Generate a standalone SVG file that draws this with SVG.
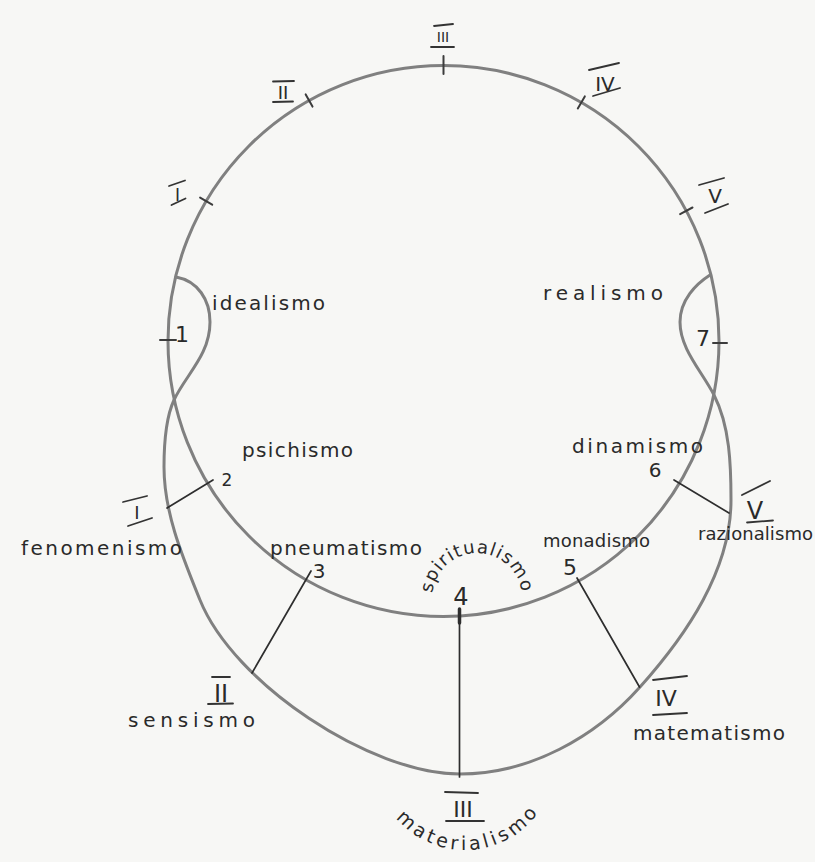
<svg xmlns="http://www.w3.org/2000/svg" width="815" height="862" viewBox="0 0 815 862">
  <defs>
    <style>
      .curve { fill: none; stroke: #808080; stroke-width: 3; stroke-linecap: round; }
      .tick { stroke: #3c3c3c; stroke-width: 2; stroke-linecap: round; }
      .bar { stroke: #333; stroke-width: 1.8; stroke-linecap: round; }
      .conn { stroke: #2e2e2e; stroke-width: 1.7; stroke-linecap: round; }
      .word { font-family: "DejaVu Sans", "Liberation Sans", sans-serif; fill: #2a2a2a; }
      .num { font-family: "DejaVu Sans", "Liberation Sans", sans-serif; fill: #2a2a2a; text-anchor: middle; }
      .roman { font-family: "DejaVu Sans", "Liberation Sans", sans-serif; fill: #2a2a2a; text-anchor: middle; }
    </style>
    <path id="arc-spirit" d="M433.5,609.6 A45,45 0 1 1 520.5,609.6"/>
    <path id="arc-mater" d="M389.5,809 A90,90 0 0 0 545.2,800.9"/>
  </defs>
  <rect x="0" y="0" width="815" height="862" fill="#f7f7f5"/>

  <!-- main shapes -->
  <g id="shapes">
    <circle id="inner-circle" class="curve" cx="443.5" cy="341" r="275.5"/>
    <path id="outer-curve" class="curve" d="M176,277 C198,281 210,300 210,322 C210,355 186,374.5 174,400 C166.4,416.4 164,445 164,467 C164,513 182.75,557.4 200,600 C233.75,683.4 370,774 460,774 C530,774 595.4,737 640,687 C686.6,634.8 731,570 731,500 C731,465 729.9,426.2 714,395 C701.7,371 680,349 680,322 C680,300 696,284 710,275"/>
  </g>

  <!-- ticks on the upper circle -->
  <g id="ticks">
    <line class="tick" x1="212.2" y1="204.7" x2="200.1" y2="197.6"/>
    <line class="tick" x1="312.5" y1="106.6" x2="305.7" y2="94.4"/>
    <line class="tick" x1="443.5" y1="74" x2="443.5" y2="56"/>
    <line class="tick" x1="577.8" y1="108.5" x2="584.8" y2="96.4"/>
    <line class="tick" x1="680.1" y1="214.1" x2="692.5" y2="207.5"/>
    <line class="tick" x1="160" y1="340" x2="176" y2="340"/>
    <line class="tick" x1="713" y1="343" x2="727" y2="343"/>
  </g>

  <!-- connectors -->
  <g id="connectors">
    <line class="conn" x1="167" y1="508" x2="213" y2="480"/>
    <line class="conn" x1="252" y1="673" x2="311" y2="571"/>
    <line class="conn" x1="459.5" y1="609" x2="459.5" y2="777"/>
    <line class="conn" x1="459.5" y1="609" x2="459.5" y2="623" style="stroke-width:3.5"/>
    <line class="conn" x1="577" y1="578" x2="639.5" y2="687"/>
    <line class="conn" x1="674" y1="480" x2="729" y2="513"/>
  </g>

  <!-- Roman numerals on the upper circle -->
  <g id="roman-top-I">
    <line class="bar" x1="169" y1="186" x2="185" y2="180.5"/>
    <text class="roman" x="177.5" y="201" font-size="17">I</text>
    <line class="bar" x1="171.5" y1="205" x2="185.5" y2="198.5"/>
  </g>
  <g id="roman-top-II">
    <line class="bar" x1="273" y1="81.5" x2="294" y2="81"/>
    <text class="roman" x="283" y="99" font-size="18">II</text>
    <line class="bar" x1="273" y1="102" x2="293" y2="101.5"/>
  </g>
  <g id="roman-top-III">
    <line class="bar" x1="434" y1="26" x2="453" y2="24"/>
    <text class="roman" x="443" y="42" font-size="14">III</text>
    <line class="bar" x1="431" y1="47" x2="454" y2="47"/>
  </g>
  <g id="roman-top-IV">
    <line class="bar" x1="589" y1="70" x2="619" y2="63"/>
    <text class="roman" x="605" y="91" font-size="20">IV</text>
    <line class="bar" x1="593" y1="96" x2="620" y2="88"/>
  </g>
  <g id="roman-top-V">
    <line class="bar" x1="699" y1="185" x2="724" y2="178"/>
    <text class="roman" x="715" y="203" font-size="20">V</text>
    <line class="bar" x1="705" y1="213" x2="728" y2="204"/>
  </g>

  <!-- Roman numerals on the outer curve -->
  <g id="roman-low-I">
    <line class="bar" x1="123" y1="502" x2="147" y2="496"/>
    <text class="roman" x="137" y="519" font-size="18">I</text>
    <line class="bar" x1="128" y1="526" x2="152" y2="518"/>
  </g>
  <g id="roman-low-II">
    <line class="bar" x1="212" y1="677" x2="230" y2="677"/>
    <text class="roman" x="221" y="702" font-size="24">II</text>
    <line class="bar" x1="208" y1="704" x2="233" y2="703.5"/>
  </g>
  <g id="roman-low-III">
    <line class="bar" x1="445" y1="792" x2="478" y2="793"/>
    <text class="roman" x="463" y="817" font-size="22">III</text>
    <line class="bar" x1="446" y1="821" x2="484" y2="821"/>
  </g>
  <g id="roman-low-IV">
    <line class="bar" x1="653" y1="680" x2="687" y2="676"/>
    <text class="roman" x="666" y="706" font-size="22">IV</text>
    <line class="bar" x1="653" y1="715" x2="687" y2="713"/>
  </g>
  <g id="roman-low-V">
    <line class="bar" x1="742" y1="495" x2="770" y2="481"/>
    <text class="roman" x="755" y="519" font-size="24">V</text>
    <line class="bar" x1="747" y1="522.5" x2="773" y2="520.5"/>
  </g>

  <!-- numbers -->
  <g id="num-1"><text class="num" x="182" y="342" font-size="22">1</text></g>
  <g id="num-2"><text class="num" x="227" y="486" font-size="17">2</text></g>
  <g id="num-3"><text class="num" x="319" y="578" font-size="20">3</text></g>
  <g id="num-4"><text class="num" x="461" y="605" font-size="24">4</text></g>
  <g id="num-5"><text class="num" x="570" y="575" font-size="22">5</text></g>
  <g id="num-6"><text class="num" x="655" y="477" font-size="20">6</text></g>
  <g id="num-7"><text class="num" x="703" y="346" font-size="22">7</text></g>

  <!-- word labels -->
  <g id="label-idealismo"><text class="word" x="212" y="310" font-size="20" textLength="113" lengthAdjust="spacing">idealismo</text></g>
  <g id="label-realismo"><text class="word" x="543" y="300" font-size="20" textLength="120" lengthAdjust="spacing">realismo</text></g>
  <g id="label-psichismo"><text class="word" x="242" y="457" font-size="20" textLength="111" lengthAdjust="spacing">psichismo</text></g>
  <g id="label-dinamismo"><text class="word" x="572" y="453" font-size="20" textLength="131" lengthAdjust="spacing">dinamismo</text></g>
  <g id="label-fenomenismo"><text class="word" x="21" y="555" font-size="20" textLength="161" lengthAdjust="spacing">fenomenismo</text></g>
  <g id="label-pneumatismo"><text class="word" x="270" y="555" font-size="20" textLength="152" lengthAdjust="spacing">pneumatismo</text></g>
  <g id="label-monadismo"><text class="word" x="543" y="547" font-size="18" textLength="107" lengthAdjust="spacing">monadismo</text></g>
  <g id="label-razionalismo"><text class="word" x="698" y="540" font-size="18" textLength="115" lengthAdjust="spacing">razionalismo</text></g>
  <g id="label-sensismo"><text class="word" x="128" y="727" font-size="20" textLength="127" lengthAdjust="spacing">sensismo</text></g>
  <g id="label-matematismo"><text class="word" x="633" y="740" font-size="20" textLength="152" lengthAdjust="spacing">matematismo</text></g>
  <g id="label-spiritualismo">
    <text class="word" font-size="18" letter-spacing="1.2" text-anchor="middle"><textPath href="#arc-spirit" startOffset="50%">spiritualismo</textPath></text>
  </g>
  <g id="label-materialismo">
    <text class="word" font-size="19" letter-spacing="3.5" text-anchor="middle"><textPath href="#arc-mater" startOffset="50%">materialismo</textPath></text>
  </g>
</svg>
